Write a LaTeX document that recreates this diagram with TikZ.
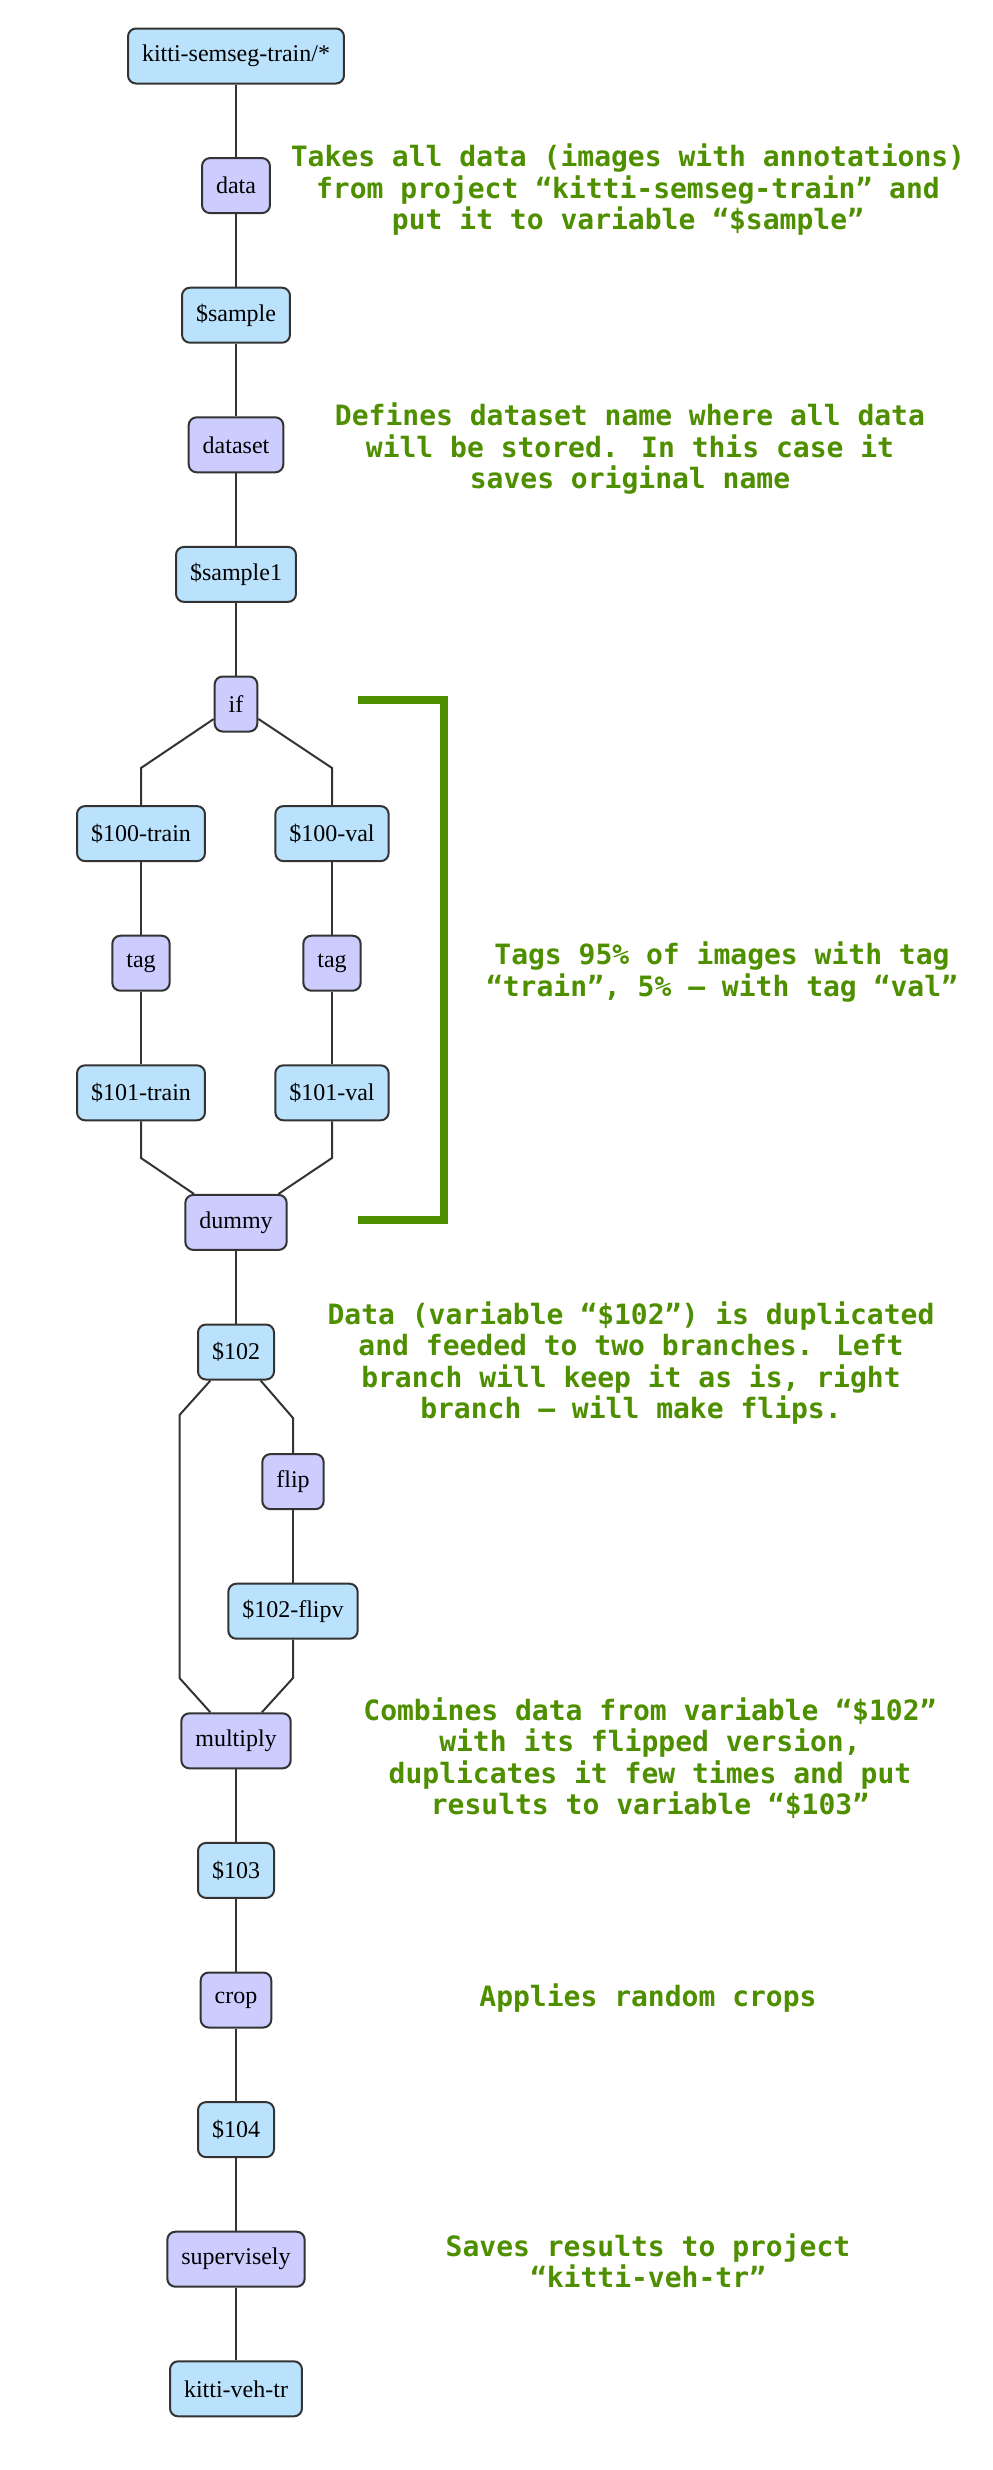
\documentclass[tikz,border=0pt]{standalone}
\usepackage{fontspec}
\setmainfont{Liberation Serif}
\newfontfamily\notefont{DejaVu Sans Mono}
\usetikzlibrary{positioning,calc}
\definecolor{varblue}{HTML}{BBE2FC}
\definecolor{oppurple}{HTML}{CCCCFF}
\definecolor{notegreen}{HTML}{4E8F00}
\definecolor{edgegray}{HTML}{333333}
\tikzset{
  box/.style={draw=edgegray, line width=1pt, rounded corners=4pt,
    minimum height=27.5pt, inner xsep=7pt, inner ysep=0pt,
    font=\fontsize{12}{14}\selectfont},
  var/.style={box, fill=varblue},
  op/.style={box, fill=oppurple},
  note/.style={text=notegreen, align=center, inner sep=0pt,
    font=\notefont\bfseries\fontsize{14}{15.75}\selectfont},
  link/.style={draw=edgegray, line width=1pt},
}

\begin{document}
\begin{tikzpicture}[x=0.5pt, y=-0.5pt]
    \useasboundingbox (0,0) rectangle (992,2470);

      % Main chain
      \node[var] (src) at (236, 56) {kitti-semseg-train/*};
      \node[op] (data) at (236, 185.6) {data};
      \node[var] (sample) at (236, 315.2) {\$sample};
      \node[op] (dataset) at (236, 444.8) {dataset};
      \node[var] (sample1) at (236, 574.4) {\$sample1};
      \node[op] (if) at (236, 704) {if};

      % Train / val branches
      \node[var] (t100) at (141, 833.6) {\$100-train};
      \node[var] (v100) at (332, 833.6) {\$100-val};
      \node[op] (ttag) at (141, 963.2) {tag};
      \node[op] (vtag) at (332, 963.2) {tag};
      \node[var] (t101) at (141, 1092.8) {\$101-train};
      \node[var] (v101) at (332, 1092.8) {\$101-val};
      \node[op] (dummy) at (236, 1222.4) {dummy};

      % Flip branch
      \node[var] (n102) at (236, 1352) {\$102};
      \node[op] (flip) at (293, 1481.6) {flip};
      \node[var] (flipv) at (293, 1611.2) {\$102-flipv};
      \node[op] (multiply) at (236, 1740.8) {multiply};

      % Tail
      \node[var] (n103) at (236, 1870.4) {\$103};
      \node[op] (crop) at (236, 2000) {crop};
      \node[var] (n104) at (236, 2129.6) {\$104};
      \node[op] (sly) at (236, 2259.2) {supervisely};
      \node[var] (dst) at (236, 2388.8) {kitti-veh-tr};

      % Bends
      \coordinate (ifL) at (141, 768);
      \coordinate (ifR) at (332, 768);
      \coordinate (dL) at (141, 1158);
      \coordinate (dR) at (332, 1158);
      \coordinate (lb1) at (179.5, 1415);
      \coordinate (lb2) at (179.5, 1678);
      \coordinate (rb1) at (293, 1418);
      \coordinate (rb2) at (293, 1678);

      % Links
      \draw[link] (src) -- (data);
      \draw[link] (data) -- (sample);
      \draw[link] (sample) -- (dataset);
      \draw[link] (dataset) -- (sample1);
      \draw[link] (sample1) -- (if);
      \draw[link] (t100) -- (ifL) -- (if);
      \draw[link] (v100) -- (ifR) -- (if);
      \draw[link] (t100) -- (ttag);
      \draw[link] (v100) -- (vtag);
      \draw[link] (ttag) -- (t101);
      \draw[link] (vtag) -- (v101);
      \draw[link] (t101) -- (dL) -- (dummy);
      \draw[link] (v101) -- (dR) -- (dummy);
      \draw[link] (dummy) -- (n102);
      \draw[link] (n102) -- (lb1) -- (lb2) -- (multiply);
      \draw[link] (flip) -- (rb1) -- (n102);
      \draw[link] (flip) -- (flipv);
      \draw[link] (flipv) -- (rb2) -- (multiply);
      \draw[link] (multiply) -- (n103);
      \draw[link] (n103) -- (crop);
      \draw[link] (crop) -- (n104);
      \draw[link] (n104) -- (sly);
      \draw[link] (sly) -- (dst);

      % Bracket
      \draw[notegreen, line width=4pt] (358, 700) -- (444, 700) -- (444, 1220) -- (358, 1220);

      % Notes
      \node[note] (n1) at (628, 190) {Takes all data (images with annotations)\\from project “kitti-semseg-train” and\\put it to variable “\$sample”};
      \node[note] (n2) at (630, 449) {Defines dataset name where all data\\will be stored. In this case it\\saves original name};
      \node[note] (n3) at (722, 972) {Tags 95\% of images with tag\\“train”, 5\% – with tag “val”};
      \node[note] (n4) at (631, 1363) {Data (variable “\$102”) is duplicated\\and feeded to two branches. Left\\branch will keep it as is, right\\branch – will make flips.};
      \node[note] (n5) at (650, 1758) {Combines data from variable “\$102”\\with its flipped version,\\duplicates it few times and put\\results to variable “\$103”};
      \node[note] (n6) at (648, 1998) {Applies random crops};
      \node[note] (n7) at (648, 2261) {Saves results to project\\“kitti-veh-tr”};
  \end{tikzpicture}
\end{document}
